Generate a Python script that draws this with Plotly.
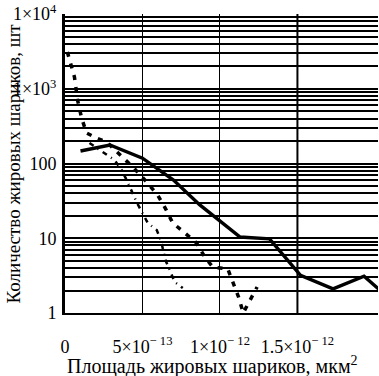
import plotly.graph_objects as go

X_UNIT = 1e-13  # x values below are in units of 1e-13 мкм²

# Solid series
solid_x = [1.0, 2.9, 5.0, 7.0, 8.7, 11.3, 13.2, 15.2, 17.3, 19.3, 20.4]
solid_y = [147, 177, 118, 60, 27.9, 10.4, 9.8, 3.2, 2.1, 3.1, 1.95]

# Dashed series
dash_x = [0.15, 0.61, 0.81, 1.07, 1.39, 2.04, 2.68, 3.40, 4.37, 5.27, 5.98, 6.50, 6.95,
          7.73, 8.50, 9.02, 9.54, 10.5, 10.8, 11.2, 11.5, 11.93, 12.4]
dash_y = [3100, 1436, 707, 406, 256, 219, 194, 138, 90, 56.6, 37.9, 24.6, 16,
          11.8, 8.6, 5.6, 4.1, 3.9, 2.76, 1.64, 1.0, 1.49, 2.23]

# Dash-dot series
dd_x = [1.58, 3.2, 3.65, 4.04, 4.62, 4.95, 5.34, 5.92, 6.18, 6.5, 7.08, 7.6]
dd_y = [188, 111, 82, 56.6, 30.5, 22.4, 16, 12.9, 9.5, 5.0, 2.6, 2.16]

x_tickvals = [0, 5e-13, 1e-12, 1.5e-12]
x_ticktext = ["0", "5×10<sup>− 13</sup>", "1×10<sup>− 12</sup>", "1.5×10<sup>− 12</sup>"]
y_tickvals = [1, 10, 100, 1000, 10000]
y_ticktext = ["1", "10", "100", "1×10<sup>3</sup>", "1×10<sup>4</sup>"]

minor_y = [k * 10 ** d for d in range(0, 4) for k in range(2, 10)]

x_title = "Площадь жировых шариков, мкм<sup>2</sup>"
y_title = "Количество жировых шариков, шт"

fig = go.Figure()
fig.add_trace(go.Scatter(x=[v * X_UNIT for v in solid_x], y=solid_y, mode="lines",
                         line=dict(color="black", width=3.4)))
fig.add_trace(go.Scatter(x=[v * X_UNIT for v in dash_x], y=dash_y, mode="lines",
                         line=dict(color="black", width=3.5, dash="5px,7px")))
fig.add_trace(go.Scatter(x=[v * X_UNIT for v in dd_x], y=dd_y, mode="lines",
                         line=dict(color="black", width=2.5, dash="5px,5px,1px,5px")))

# thicker grid line at 1.5e-12
fig.add_shape(type="line", xref="x", yref="paper", x0=x_tickvals[3], x1=x_tickvals[3],
              y0=0, y1=1, line=dict(color="black", width=2), layer="below")

font = "Liberation Serif"
fig.add_annotation(text=x_title, xref="paper", yref="paper", x=0.47, y=0,
                   yshift=-52, showarrow=False, xanchor="center", yanchor="middle",
                   font=dict(family=font, size=20, color="black"))
fig.add_annotation(text=y_title, xref="paper", yref="paper", x=0, y=0.5,
                   xshift=-52, showarrow=False, textangle=-90,
                   xanchor="center", yanchor="middle",
                   font=dict(family=font, size=19, color="black"))

fig.update_layout(
    width=379, height=376,
    margin=dict(l=65, r=1, t=14, b=63),
    paper_bgcolor="white", plot_bgcolor="white",
    showlegend=False,
    font=dict(family=font, size=18, color="black"),
    xaxis=dict(range=[0, 2.02e-12], tickvals=x_tickvals, ticktext=x_ticktext,
               showgrid=True, gridcolor="black", gridwidth=1, automargin=False,
               showline=True, linecolor="black", linewidth=2, ticks="",
               zeroline=False, tickfont=dict(family=font, size=18),
               ticklabelstandoff=16),
    yaxis=dict(type="log", range=[0, 4], tickvals=y_tickvals, ticktext=y_ticktext,
               showgrid=True, gridcolor="black", gridwidth=2, automargin=False,
               minor=dict(tickvals=minor_y, showgrid=True, gridcolor="black",
                          gridwidth=1.6, ticks=""),
               showline=True, linecolor="black", linewidth=3, ticks="",
               zeroline=False, tickfont=dict(family=font, size=18), ticklabelstandoff=2),
)

fig.write_html("out.html", config={"displayModeBar": False},
               post_script="document.body.style.margin='0px';")
